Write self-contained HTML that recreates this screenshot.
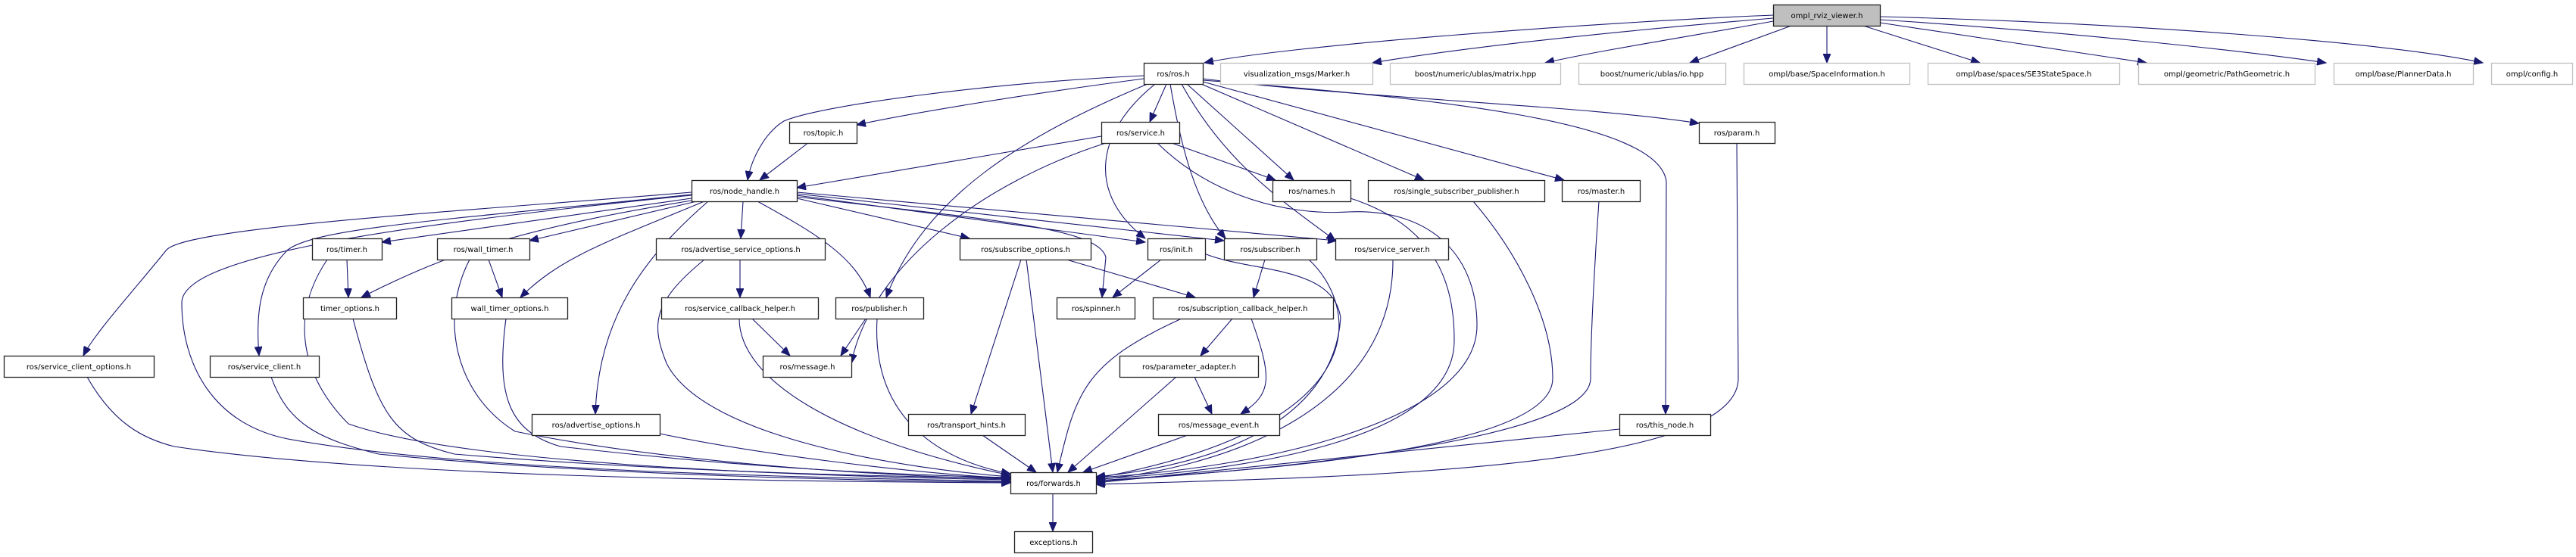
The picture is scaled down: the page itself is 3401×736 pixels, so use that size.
<!DOCTYPE html>
<html><head><meta charset="utf-8"><style>
html,body{margin:0;padding:0;background:#fff;}
svg{display:block;}
text{font-family:"DejaVu Sans","Liberation Sans",sans-serif;font-size:10px;text-anchor:middle;fill:#000;}
.n{fill:#fff;stroke:#222;stroke-width:1.3;}
.g{fill:#fff;stroke:#bfbfbf;stroke-width:1.3;}
.e{fill:none;stroke:#191970;stroke-width:1.1;marker-end:url(#a);}
</style></head><body>
<svg width="3401" height="736" viewBox="0 0 3401 736" xmlns="http://www.w3.org/2000/svg">
<defs><marker id="a" markerUnits="userSpaceOnUse" markerWidth="13" markerHeight="10" refX="12" refY="5" orient="auto"><path d="M0,0 L12,5 L0,10 z" fill="#191970" stroke="#191970"/></marker></defs>
<g>
<path class="e" d="M2341,20 C2100,30 1700,60 1590,83"/>
<path class="e" d="M2341,24 C2150,40 1950,60 1812,83"/>
<path class="e" d="M2341,28 C2250,45 2120,65 2040,83"/>
<path class="e" d="M2365,34 L2231,83"/>
<path class="e" d="M2412,34 L2412,83"/>
<path class="e" d="M2460,34 L2614,83"/>
<path class="e" d="M2482,30 L2834,83"/>
<path class="e" d="M2482,26 C2700,40 2950,65 3071,83"/>
<path class="e" d="M2482,22 C2800,30 3150,55 3278,83"/>
<path class="e" d="M1510,100 C1300,110 1080,140 1035,160 C1010,175 992,210 987,238"/>
<path class="e" d="M1510,104 C1350,125 1200,150 1131,165"/>
<path class="e" d="M1540,111 L1518,161"/>
<path class="e" d="M1567,111 L1708,238"/>
<path class="e" d="M1586,111 L1880,238"/>
<path class="e" d="M1588,108 L2065,238"/>
<path class="e" d="M1588,104 C1800,130 2100,140 2243,163"/>
<path class="e" d="M1588,106 C1900,130 2190,160 2200,240 L2199,547"/>
<path class="e" d="M1515,111 C1350,180 1220,260 1170,393"/>
<path class="e" d="M1525,111 C1440,180 1440,260 1512,315"/>
<path class="e" d="M1545,111 C1560,200 1580,270 1618,315"/>
<path class="e" d="M1560,111 C1620,220 1700,270 1763,318"/>
<path class="e" d="M1454,180 L1052,248"/>
<path class="e" d="M1547,189 L1684,238"/>
<path class="e" d="M1460,189 C1300,240 1150,350 1124,480"/>
<path class="e" d="M1528,189 C1600,260 1700,285 1780,280 C1880,275 1950,330 1950,430 C1950,560 1650,620 1447,631"/>
<path class="e" d="M1068,188 L1003,238"/>
<path class="e" d="M913,254 C600,280 250,300 220,330 C180,380 125,440 110,470"/>
<path class="e" d="M913,257 C600,290 420,300 380,330 C340,370 338,420 342,470"/>
<path class="e" d="M913,258 C500,300 240,340 240,400 C240,480 280,560 380,580 C600,620 1000,630 1334,636"/>
<path class="e" d="M913,262 L504,320"/>
<path class="e" d="M913,265 C700,300 600,330 477,393"/>
<path class="e" d="M920,266 L699,318"/>
<path class="e" d="M930,266 C800,320 740,340 687,393"/>
<path class="e" d="M981,266 L978,315"/>
<path class="e" d="M935,266 C850,340 790,420 786,547"/>
<path class="e" d="M1052,262 L1280,315"/>
<path class="e" d="M1000,266 C1080,310 1130,340 1149,393"/>
<path class="e" d="M1052,258 L1512,320"/>
<path class="e" d="M1052,256 L1616,318"/>
<path class="e" d="M1052,254 L1765,318"/>
<path class="e" d="M1052,260 C1300,290 1450,300 1460,340 L1455,393"/>
<path class="e" d="M458,343 L460,393"/>
<path class="e" d="M432,343 C380,420 400,500 460,560 C600,610 1000,628 1334,634"/>
<path class="e" d="M645,343 L663,393"/>
<path class="e" d="M620,343 C580,420 600,520 680,570 C900,615 1200,630 1334,633"/>
<path class="e" d="M466,421 C500,550 520,580 600,600 C900,625 1200,630 1334,632"/>
<path class="e" d="M668,421 C655,520 670,570 740,590 C1000,620 1200,628 1334,631"/>
<path class="e" d="M930,343 C860,400 860,430 880,480 C930,580 1200,620 1334,630"/>
<path class="e" d="M977,343 L977,393"/>
<path class="e" d="M993,421 L1043,470"/>
<path class="e" d="M976,421 C976,500 1100,580 1334,628"/>
<path class="e" d="M1143,421 L1110,470"/>
<path class="e" d="M1158,421 C1150,560 1250,610 1334,626"/>
<path class="e" d="M871,573 C1000,600 1200,625 1334,632"/>
<path class="e" d="M115,498 C150,560 190,580 230,590 C500,630 1000,636 1334,638"/>
<path class="e" d="M358,498 C380,560 420,580 500,600 C800,630 1200,636 1334,637"/>
<path class="e" d="M1408,343 L1578,393"/>
<path class="e" d="M1348,343 L1282,547"/>
<path class="e" d="M1355,343 L1390,624"/>
<path class="e" d="M1297,575 L1368,624"/>
<path class="e" d="M1533,343 L1469,393"/>
<path class="e" d="M1590,335 C1650,360 1760,350 1770,420 C1760,560 1600,615 1447,630"/>
<path class="e" d="M1670,343 L1655,393"/>
<path class="e" d="M1728,343 C1790,400 1830,560 1447,632"/>
<path class="e" d="M1839,343 C1840,550 1600,620 1447,634"/>
<path class="e" d="M1627,421 L1585,470"/>
<path class="e" d="M1652,421 C1680,500 1680,520 1638,547"/>
<path class="e" d="M1560,421 C1430,480 1420,520 1396,624"/>
<path class="e" d="M1577,498 L1600,547"/>
<path class="e" d="M1553,498 L1410,624"/>
<path class="e" d="M1568,575 L1430,624"/>
<path class="e" d="M2138,567 L1447,638"/>
<path class="e" d="M1783,262 C1900,300 1920,380 1920,450 C1920,580 1650,622 1447,633"/>
<path class="e" d="M2111,266 C2105,350 2100,450 2100,500 C2100,580 1700,620 1447,636"/>
<path class="e" d="M1945,266 C2000,330 2050,420 2050,500 C2050,590 1700,620 1447,635"/>
<path class="e" d="M2293,188 L2295,500 C2295,620 1800,630 1447,640"/>
<path class="e" d="M1390,652 L1390,702"/>
</g>
<g>
<rect x="2341.5" y="6.5" width="141" height="28" fill="#bfbfbf" stroke="#222" stroke-width="1.3"/><text x="2412" y="24">ompl_rviz_viewer.h</text>
<rect class="n" x="1510.5" y="83.5" width="78" height="28"/><text x="1549" y="101">ros/ros.h</text>
<rect class="g" x="1611.5" y="83.5" width="201" height="28"/><text x="1712" y="101">visualization_msgs/Marker.h</text>
<rect class="g" x="1835.5" y="83.5" width="225" height="28"/><text x="1948" y="101">boost/numeric/ublas/matrix.hpp</text>
<rect class="g" x="2084.5" y="83.5" width="194" height="28"/><text x="2181" y="101">boost/numeric/ublas/io.hpp</text>
<rect class="g" x="2302.5" y="83.5" width="219" height="28"/><text x="2412" y="101">ompl/base/SpaceInformation.h</text>
<rect class="g" x="2545.5" y="83.5" width="253" height="28"/><text x="2672" y="101">ompl/base/spaces/SE3StateSpace.h</text>
<rect class="g" x="2823.5" y="83.5" width="233" height="28"/><text x="2940" y="101">ompl/geometric/PathGeometric.h</text>
<rect class="g" x="3081.5" y="83.5" width="184" height="28"/><text x="3173" y="101">ompl/base/PlannerData.h</text>
<rect class="g" x="3289.5" y="83.5" width="107" height="28"/><text x="3343" y="101">ompl/config.h</text>
<rect class="n" x="1042.5" y="161.5" width="89" height="28"/><text x="1087" y="179">ros/topic.h</text>
<rect class="n" x="1454.5" y="161.5" width="103" height="28"/><text x="1506" y="179">ros/service.h</text>
<rect class="n" x="2243.5" y="161.5" width="100" height="28"/><text x="2293" y="179">ros/param.h</text>
<rect class="n" x="913.5" y="238.5" width="139" height="28"/><text x="983" y="256">ros/node_handle.h</text>
<rect class="n" x="1680.5" y="238.5" width="103" height="28"/><text x="1732" y="256">ros/names.h</text>
<rect class="n" x="1806.5" y="238.5" width="233" height="28"/><text x="1923" y="256">ros/single_subscriber_publisher.h</text>
<rect class="n" x="2062.5" y="238.5" width="103" height="28"/><text x="2114" y="256">ros/master.h</text>
<rect class="n" x="412.5" y="315.5" width="92" height="28"/><text x="458" y="333">ros/timer.h</text>
<rect class="n" x="577.5" y="315.5" width="122" height="28"/><text x="638" y="333">ros/wall_timer.h</text>
<rect class="n" x="866.5" y="315.5" width="223" height="28"/><text x="978" y="333">ros/advertise_service_options.h</text>
<rect class="n" x="1267.5" y="315.5" width="173" height="28"/><text x="1354" y="333">ros/subscribe_options.h</text>
<rect class="n" x="1515.5" y="315.5" width="76" height="28"/><text x="1553" y="333">ros/init.h</text>
<rect class="n" x="1616.5" y="315.5" width="122" height="28"/><text x="1677" y="333">ros/subscriber.h</text>
<rect class="n" x="1763.5" y="315.5" width="149" height="28"/><text x="1838" y="333">ros/service_server.h</text>
<rect class="n" x="400.5" y="393.5" width="123" height="28"/><text x="462" y="411">timer_options.h</text>
<rect class="n" x="596.5" y="393.5" width="153" height="28"/><text x="673" y="411">wall_timer_options.h</text>
<rect class="n" x="873.5" y="393.5" width="207" height="28"/><text x="977" y="411">ros/service_callback_helper.h</text>
<rect class="n" x="1103.5" y="393.5" width="116" height="28"/><text x="1161" y="411">ros/publisher.h</text>
<rect class="n" x="1395.5" y="393.5" width="103" height="28"/><text x="1447" y="411">ros/spinner.h</text>
<rect class="n" x="1522.5" y="393.5" width="238" height="28"/><text x="1641" y="411">ros/subscription_callback_helper.h</text>
<rect class="n" x="5.5" y="470.5" width="198" height="28"/><text x="104" y="488">ros/service_client_options.h</text>
<rect class="n" x="277.5" y="470.5" width="144" height="28"/><text x="349" y="488">ros/service_client.h</text>
<rect class="n" x="1007.5" y="470.5" width="117" height="28"/><text x="1066" y="488">ros/message.h</text>
<rect class="n" x="1478.5" y="470.5" width="183" height="28"/><text x="1570" y="488">ros/parameter_adapter.h</text>
<rect class="n" x="702.5" y="547.5" width="169" height="28"/><text x="787" y="565">ros/advertise_options.h</text>
<rect class="n" x="1199.5" y="547.5" width="154" height="28"/><text x="1276" y="565">ros/transport_hints.h</text>
<rect class="n" x="1529.5" y="547.5" width="160" height="28"/><text x="1609" y="565">ros/message_event.h</text>
<rect class="n" x="2138.5" y="547.5" width="120" height="28"/><text x="2198" y="565">ros/this_node.h</text>
<rect class="n" x="1334.5" y="624.5" width="113" height="28"/><text x="1391" y="642">ros/forwards.h</text>
<rect class="n" x="1339.5" y="702.5" width="103" height="28"/><text x="1391" y="720">exceptions.h</text>
</g>
</svg>
</body></html>
